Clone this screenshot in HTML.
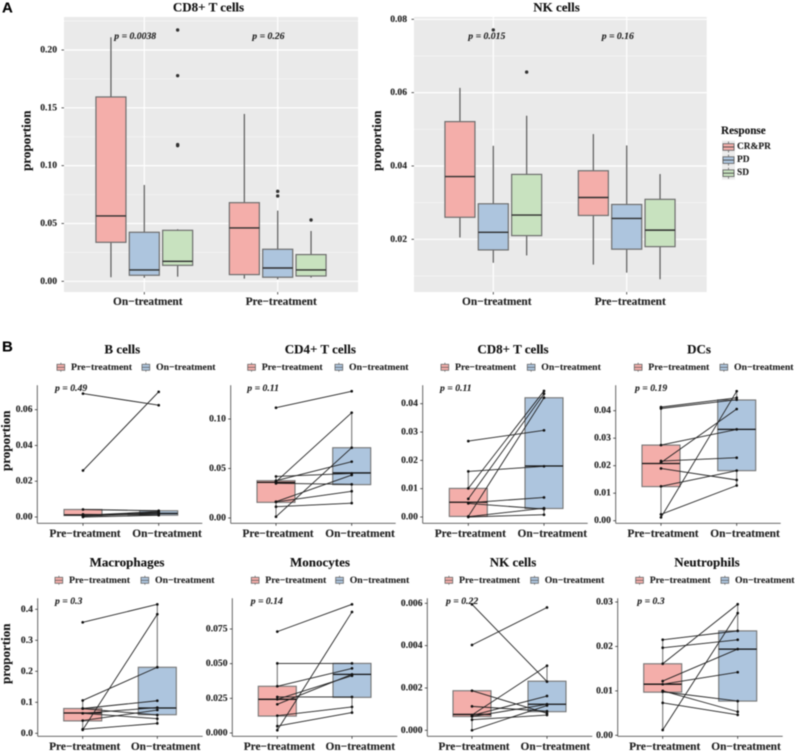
<!DOCTYPE html>
<html lang="en">
<head>
<meta charset="utf-8">
<title>Immune cell proportions by response and treatment</title>
<style>
html,body{margin:0;padding:0;background:#fff;width:795px;height:751px;overflow:hidden}
svg{display:block;filter:blur(0.4px)}
text{font-family:"Liberation Serif",serif;font-weight:bold;fill:#222;dominant-baseline:central;stroke:#222;stroke-width:0.12px}
.tick{font-size:9.6px;fill:#222}
.cat{font-size:11.4px;fill:#222;text-anchor:middle}
.title{font-size:13px;fill:#111;text-anchor:middle}
.ylab{font-size:13px;fill:#111;text-anchor:middle}
.pv{font-size:9.7px;font-style:italic;fill:#222}
.leg{font-size:9.75px;fill:#222}
.legA{font-size:9.4px;fill:#222}
.legT{font-size:11.2px;fill:#111}
.tag{font-family:"Liberation Sans",sans-serif;font-size:15px;fill:#000;stroke:#000}
</style>
</head>
<body>
<svg id="fig" width="795" height="751" viewBox="0 0 795 751" xmlns="http://www.w3.org/2000/svg"></svg>
<script>
/* ---------- Panel A data ---------- */
const responseGroups = ['CR&PR', 'PD', 'SD'];
const treatmentCategories = ['On\u2212treatment', 'Pre\u2212treatment'];
const pairedCategories = ['Pre\u2212treatment', 'On\u2212treatment'];

const cd8Ticks = ['0.00', '0.05', '0.10', '0.15', '0.20'];
const cd8Minor = [0.025, 0.075, 0.125, 0.175, 0.225];
const cd8PValues = ['p = 0.0038', 'p = 0.26'];
/* each box: low whisker, q1, median, q3, high whisker */
const cd8OnBoxes = [
  [0.0035, 0.0337, 0.0565, 0.1594, 0.211],
  [0.003, 0.0052, 0.0098, 0.0424, 0.0833],
  [0.004, 0.0138, 0.0173, 0.0441, 0.045]
];
const cd8PreBoxes = [
  [0.0023, 0.0058, 0.0461, 0.068, 0.1447],
  [0.0017, 0.0035, 0.0115, 0.0277, 0.0611],
  [0.0032, 0.0046, 0.0098, 0.0231, 0.0435]
];
const cd8OnOutliers = [[], [], [0.2173, 0.1778, 0.1182, 0.1173]];
const cd8PreOutliers = [[], [0.0778, 0.0738], [0.053]];

const nkATicks = ['0.02', '0.04', '0.06', '0.08'];
const nkAMinor = [0.01, 0.03, 0.05, 0.07];
const nkAPValues = ['p = 0.015', 'p = 0.16'];
const nkAOnBoxes = [
  [0.0205, 0.026, 0.0371, 0.0521, 0.0613],
  [0.0136, 0.0171, 0.0219, 0.0297, 0.0455],
  [0.0156, 0.021, 0.0266, 0.0377, 0.0537]
];
const nkAPreBoxes = [
  [0.0131, 0.0265, 0.0314, 0.0387, 0.0487],
  [0.0109, 0.0173, 0.0257, 0.0295, 0.0456],
  [0.0091, 0.018, 0.0225, 0.0309, 0.0378]
];
const nkAOnOutliers = [[], [0.0771], [0.0656]];
const nkAPreOutliers = [[], [], []];

/* ---------- Panel B data: paired values, box [low, q1, median, q3, high] ---------- */
const bCellsTicks = ['0.00', '0.02', '0.04', '0.06'];
const bCellsPre = [0.069, 0.026, 0.0042, 0.0015, 0.001, 0.0005, 0, 0.001];
const bCellsOn = [0.0625, 0.07, 0.0035, 0.0012, 0.003, 0.002, 0.001, 0.0025];
const bCellsPreBox = [0, 0.0008, 0.0012, 0.0042, 0.0042];
const bCellsOnBox = [0.001, 0.001, 0.002, 0.0035, 0.0035];

const cd4Ticks = ['0.00', '0.05', '0.10'];
const cd4Pre = [0.1114, 0.0367, 0.0013, 0.042, 0.0377, 0.035, 0.0165, 0.0162, 0.0114];
const cd4On = [0.128, 0.1064, 0.071, 0.045, 0.0569, 0.034, 0.0434, 0.027, 0.015];
const cd4PreBox = [0.0013, 0.0158, 0.036, 0.0377, 0.042];
const cd4OnBox = [0.015, 0.0337, 0.0455, 0.071, 0.107];

const cd8bTicks = ['0.00', '0.01', '0.02', '0.03', '0.04'];
const cd8bPre = [0.0268, 0.0161, 0.0101, 0.0064, 0.0048, 0.005, 0.0002, 0.0001, 0];
const cd8bOn = [0.0306, 0.0179, 0.0445, 0.0435, 0.0028, 0.0069, 0.0421, 0.0031, 0.0008];
const cd8bPreBox = [0, 0.0002, 0.0052, 0.0101, 0.0161];
const cd8bOnBox = [0.0008, 0.003, 0.018, 0.0421, 0.0445];

const dcTicks = ['0.00', '0.01', '0.02', '0.03', '0.04'];
const dcPre = [0.0413, 0.0408, 0.0275, 0.0217, 0.0211, 0.019, 0.0125, 0.0023, 0.0012];
const dcOn = [0.0447, 0.044, 0.0332, 0.0229, 0.0406, 0.0148, 0.0182, 0.0128, 0.0471];
const dcPreBox = [0.0012, 0.0124, 0.0208, 0.0275, 0.0413];
const dcOnBox = [0.0128, 0.0182, 0.0332, 0.0439, 0.0471];

const macTicks = ['0.0', '0.1', '0.2', '0.3', '0.4'];
const macPre = [0.358, 0.106, 0.011, 0.08, 0.0795, 0.0645, 0.0645, 0.041, 0.013];
const macOn = [0.416, 0.213, 0.384, 0.105, 0.059, 0.083, 0.047, 0.075, 0.032];
const macPreBox = [0.011, 0.04, 0.0655, 0.08, 0.106];
const macOnBox = [0.032, 0.06, 0.0815, 0.213, 0.416];

const monoTicks = ['0.000', '0.025', '0.050', '0.075'];
const monoPre = [0.0731, 0.0502, 0.0337, 0.026, 0.0243, 0.0207, 0.0125, 0.005, 0.002];
const monoOn = [0.0928, 0.0502, 0.0466, 0.026, 0.0413, 0.0423, 0.0188, 0.0147, 0.0873];
const monoPreBox = [0.002, 0.0122, 0.0243, 0.0337, 0.0502];
const monoOnBox = [0.0147, 0.0257, 0.0423, 0.0502, 0.0502];

const nkbTicks = ['0.000', '0.002', '0.004', '0.006'];
const nkbPre = [0.00595, 0.00403, 0.00187, 0.00113, 0.00072, 0.0007, 0.00065, 0.0005, 0];
const nkbOn = [0.0023, 0.0058, 0.0008, 0.0009, 0.00305, 0.00162, 0.00123, 0.00072, 0.00117];
const nkbPreBox = [0, 0.00065, 0.00075, 0.00187, 0.00187];
const nkbOnBox = [0.00072, 0.00088, 0.00123, 0.00232, 0.00305];

const neutTicks = ['0.00', '0.01', '0.02', '0.03'];
const neutPre = [0.0215, 0.0197, 0.0161, 0.0122, 0.0115, 0.01, 0.0098, 0.0073, 0.0012];
const neutOn = [0.0235, 0.0215, 0.0295, 0.0194, 0.0142, 0.0053, 0.0077, 0.0046, 0.0275];
const neutPreBox = [0.0012, 0.0097, 0.0115, 0.0161, 0.0215];
const neutOnBox = [0.0046, 0.0077, 0.0194, 0.0235, 0.0295];

/* ---------- Colours ---------- */
const responseFill = ['#f4aeaa', '#adc5de', '#c8e2bf'];
const pairFill = ['#f4aeaa', '#adc5de'];

/* ---------- Drawing helpers ---------- */
const NS = 'http://www.w3.org/2000/svg';
const svg = document.getElementById('fig');

function group(parent, name) {
  const el = document.createElementNS(NS, 'g');
  
  
  parent.appendChild(el);
  return el;
}
function line(parent, x1, y1, x2, y2, stroke, width, name) {
  const el = document.createElementNS(NS, 'line');
  el.setAttribute('x1', x1);
  el.setAttribute('y1', y1);
  el.setAttribute('x2', x2);
  el.setAttribute('y2', y2);
  el.setAttribute('stroke', stroke);
  el.setAttribute('stroke-width', width);
  
  
  parent.appendChild(el);
  return el;
}
function rect(parent, x, y, w, h, fill, stroke, width, name) {
  const el = document.createElementNS(NS, 'rect');
  el.setAttribute('x', x);
  el.setAttribute('y', y);
  el.setAttribute('width', w);
  el.setAttribute('height', h);
  el.setAttribute('fill', fill);
  el.setAttribute('stroke', stroke);
  el.setAttribute('stroke-width', width);
  
  
  parent.appendChild(el);
  return el;
}
function dot(parent, x, y, r, fill, name) {
  const el = document.createElementNS(NS, 'circle');
  el.setAttribute('cx', x);
  el.setAttribute('cy', y);
  el.setAttribute('r', r);
  el.setAttribute('fill', fill);
  
  
  parent.appendChild(el);
  return el;
}
function label(parent, x, y, str, cls, name, anchor, rotate) {
  const el = document.createElementNS(NS, 'text');
  el.setAttribute('x', x);
  el.setAttribute('y', y);
  el.setAttribute('class', cls);
  if (anchor) el.setAttribute('text-anchor', anchor);
  if (rotate) el.setAttribute('transform', 'rotate(' + rotate + ' ' + x + ' ' + y + ')');
  el.textContent = str;
  
  
  parent.appendChild(el);
  return el;
}
/* y axis function built from the two outer tick labels and their pixel anchors */
function yScale(v0, px0, v1, px1) {
  return function (v) { return px0 + (v - v0) * (px1 - px0) / (v1 - v0); };
}

/* Box drawing shared by both panels */
function drawBox(g, cx, w, box, y, fill, stroke, sw, wStroke, wW, medColor, medW, name) {
  line(g, cx, y(box[4]), cx, y(box[3]), wStroke, wW, name + '-upper-whisker');
  line(g, cx, y(box[1]), cx, y(box[0]), wStroke, wW, name + '-lower-whisker');
  rect(g, cx - w / 2, y(box[3]), w, y(box[1]) - y(box[3]), fill, stroke, sw, name + '-box');
  line(g, cx - w / 2, y(box[2]), cx + w / 2, y(box[2]), medColor, medW, name + '-median');
}

/* ---------- Panel A ---------- */
function grouped(cfg) {
  const g = group(svg, cfg.name);
  const y = yScale(parseFloat(cfg.ticks[0]), cfg.py0, parseFloat(cfg.ticks[cfg.ticks.length - 1]), cfg.py1);
  const background = rect(g, cfg.left, 17, cfg.right - cfg.left, 275, '#eaeaea', 'none', 0, cfg.name + '-panel-background');
  background.removeAttribute('stroke-width');
  cfg.minor.forEach(function (v) {
    line(g, cfg.left, y(v), cfg.right, y(v), '#f6f6f6', 0.7, cfg.name + '-minor-gridline');
  });
  cfg.ticks.forEach(function (t) {
    const v = parseFloat(t);
    line(g, cfg.left, y(v), cfg.right, y(v), '#ffffff', 1.2, cfg.name + '-major-gridline');
    line(g, cfg.left - 2.5, y(v), cfg.left, y(v), '#333', 0.8, cfg.name + '-y-tick');
    label(g, cfg.left - 7, y(v), t, 'tick', cfg.name + '-y-tick-label', 'end');
  });
  const step = (cfg.cat[1] - cfg.cat[0]);
  treatmentCategories.forEach(function (c, i) {
    const cx = cfg.cat[i];
    line(g, cx, 17, cx, 292, '#ffffff', 1.2, cfg.name + '-vertical-gridline');
    line(g, cx, 292, cx, 294.5, '#333', 0.8, cfg.name + '-x-tick');
    label(g, cx + 3.5, 302, c, 'cat', cfg.name + '-x-tick-label');
  });
  const bw = step * 0.225;
  const off = step * 0.25;
  cfg.boxes.forEach(function (set, i) {
    set.forEach(function (box, j) {
      const cx = cfg.cat[i] + (j - 1) * off;
      const nm = cfg.name + '-' + (i === 0 ? 'on' : 'pre') + '-' + responseGroups[j].toLowerCase().replace('&', '-');
      drawBox(g, cx, bw, box, y, responseFill[j], '#6e6e6e', 1.2, '#5f5f5f', 1.25, '#2e2e2e', 1.4, nm);
      cfg.outliers[i][j].forEach(function (v) {
        dot(g, cx, y(v), 1.7, '#333', nm + '-outlier');
      });
    });
  });
  cfg.pvalues.forEach(function (p, i) {
    label(g, cfg.px[i], 36.7, p, 'pv', cfg.name + '-p-value');
  });
  label(g, cfg.titleX, 7, cfg.title, 'title', cfg.name + '-title');
  label(g, cfg.ylabX, 140.7, 'proportion', 'ylab', cfg.name + '-y-axis-title', null, -90);
}

grouped({name: 'cd8-grouped-chart', title: 'CD8+ T cells', left: 64, right: 358,
  ticks: cd8Ticks, minor: cd8Minor, py0: 281.3, py1: 50, cat: [144.3, 277.7],
  boxes: [cd8OnBoxes, cd8PreBoxes], outliers: [cd8OnOutliers, cd8PreOutliers],
  pvalues: cd8PValues, px: [114.3, 252.3], titleX: 208.5, ylabX: 26});
grouped({name: 'nk-grouped-chart', title: 'NK cells', left: 414, right: 706.7,
  ticks: nkATicks, minor: nkAMinor, py0: 239.3, py1: 19.3, cat: [493.3, 626.7],
  boxes: [nkAOnBoxes, nkAPreBoxes], outliers: [nkAOnOutliers, nkAPreOutliers],
  pvalues: nkAPValues, px: [468.3, 601.7], titleX: 556.5, ylabX: 376.7});

/* Response legend */
(function () {
  const g = group(svg, 'response-legend');
  label(g, 721, 131, 'Response', 'legT', 'legend-title');
  responseGroups.forEach(function (r, i) {
    const cy = 147 + i * 13.1;
    const e = group(g, 'legend-entry-' + r.toLowerCase().replace('&', '-'));
    rect(e, 722, cy - 6.5, 13, 13, '#ececec', 'none', 0, 'legend-key-background');
    line(e, 728.5, cy - 5.5, 728.5, cy + 5.5, '#666', 0.8, 'legend-key-whisker');
    rect(e, 723, cy - 3.3, 11, 6.6, responseFill[i], '#666', 0.9, 'legend-key-box');
    line(e, 723, cy, 734, cy, '#444', 0.9, 'legend-key-median');
    label(e, 737, cy, r, 'legA', 'legend-label');
  });
})();

/* ---------- Panel B ---------- */
function paired(cfg) {
  const g = group(svg, cfg.name);
  const y = yScale(parseFloat(cfg.ticks[0]), cfg.py0, parseFloat(cfg.ticks[cfg.ticks.length - 1]), cfg.py1);
  const bottom = cfg.bottom, top = bottom - 138;
  label(g, cfg.titleX, bottom - 174.5, cfg.title, 'title', cfg.name + '-title');
  pairedCategories.forEach(function (c, i) {
    const e = group(g, cfg.name + '-legend-entry-' + (i === 0 ? 'pre' : 'on'));
    const ky = bottom - 156;
    line(e, cfg.keys[i] + 3.85, ky - 4.5, cfg.keys[i] + 3.85, ky + 4.5, '#555', 0.7, 'legend-key-whisker');
    rect(e, cfg.keys[i], ky - 3, 7.7, 6, pairFill[i], '#666', 0.8, 'legend-key-box');
    line(e, cfg.keys[i], ky, cfg.keys[i] + 7.7, ky, '#555', 0.7, 'legend-key-median');
    label(e, cfg.keys[i] + 14, ky, c, 'leg', 'legend-label');
  });
  [cfg.preBox, cfg.onBox].forEach(function (box, i) {
    drawBox(g, cfg.cat[i], 38, box, y, pairFill[i], '#757575', 1.1, '#777', 1.1, '#111', 1.3, cfg.name + (i === 0 ? '-pre' : '-on'));
  });
  cfg.pre.forEach(function (v, i) {
    line(g, cfg.cat[0], y(v), cfg.cat[1], y(cfg.on[i]), '#222', 0.9, cfg.name + '-patient-line');
    dot(g, cfg.cat[0], y(v), 1.35, '#111', cfg.name + '-pre-point');
    dot(g, cfg.cat[1], y(cfg.on[i]), 1.35, '#111', cfg.name + '-on-point');
  });
  line(g, cfg.left, top, cfg.left, bottom, '#555', 0.9, cfg.name + '-y-axis');
  line(g, cfg.left, bottom, cfg.left + 165, bottom, '#555', 0.9, cfg.name + '-x-axis');
  cfg.ticks.forEach(function (t) {
    const v = parseFloat(t);
    line(g, cfg.left - 2.5, y(v), cfg.left, y(v), '#333', 0.8, cfg.name + '-y-tick');
    label(g, cfg.left - 4.8, y(v), t, 'tick', cfg.name + '-y-tick-label', 'end');
  });
  pairedCategories.forEach(function (c, i) {
    line(g, cfg.cat[i], bottom, cfg.cat[i], bottom + 2.5, '#333', 0.8, cfg.name + '-x-tick');
    label(g, cfg.cat[i] + (i === 0 ? 2 : 8.3), bottom + 10.7, c, 'cat', cfg.name + '-x-tick-label');
  });
  label(g, cfg.px, bottom - 134.6, cfg.p, 'pv', cfg.name + '-p-value');
  if (cfg.yl) label(g, 5.7, bottom - 82.5, 'proportion', 'ylab', cfg.name + '-y-axis-title', null, -90);
}

paired({name: 'b-cells-chart', title: 'B cells', titleX: 122.3, left: 37.3, bottom: 523.3, cat: [83, 158.7],
  ticks: bCellsTicks, py0: 517, py1: 409.7, pre: bCellsPre, on: bCellsOn, preBox: bCellsPreBox, onBox: bCellsOnBox,
  keys: [57, 142], p: 'p = 0.49', px: 55, yl: true});
paired({name: 'cd4-t-cells-chart', title: 'CD4+ T cells', titleX: 320.3, left: 230.7, bottom: 523.3, cat: [276, 351.7],
  ticks: cd4Ticks, py0: 518, py1: 419, pre: cd4Pre, on: cd4On, preBox: cd4PreBox, onBox: cd4OnBox,
  keys: [247.7, 335], p: 'p = 0.11', px: 247.3});
paired({name: 'cd8-t-cells-chart', title: 'CD8+ T cells', titleX: 513, left: 422.7, bottom: 523.3, cat: [468.3, 544],
  ticks: cd8bTicks, py0: 517, py1: 403.7, pre: cd8bPre, on: cd8bOn, preBox: cd8bPreBox, onBox: cd8bOnBox,
  keys: [441, 527.3], p: 'p = 0.11', px: 440});
paired({name: 'dcs-chart', title: 'DCs', titleX: 699, left: 615.7, bottom: 523.3, cat: [661, 736.7],
  ticks: dcTicks, py0: 520.7, py1: 410.7, pre: dcPre, on: dcOn, preBox: dcPreBox, onBox: dcOnBox,
  keys: [634.3, 720], p: 'p = 0.19', px: 635});
paired({name: 'macrophages-chart', title: 'Macrophages', titleX: 127, left: 37.7, bottom: 736.3, cat: [82.7, 157.3],
  ticks: macTicks, py0: 733.3, py1: 609.3, pre: macPre, on: macOn, preBox: macPreBox, onBox: macOnBox,
  keys: [55, 141], p: 'p = 0.3', px: 55, yl: true});
paired({name: 'monocytes-chart', title: 'Monocytes', titleX: 320, left: 232.3, bottom: 736.3, cat: [277.3, 352],
  ticks: monoTicks, py0: 733, py1: 629, pre: monoPre, on: monoOn, preBox: monoPreBox, onBox: monoOnBox,
  keys: [251.3, 335.7], p: 'p = 0.14', px: 250.7});
paired({name: 'nk-cells-chart', title: 'NK cells', titleX: 513, left: 427.3, bottom: 736.3, cat: [472, 547],
  ticks: nkbTicks, py0: 730.3, py1: 603.3, pre: nkbPre, on: nkbOn, preBox: nkbPreBox, onBox: nkbOnBox,
  keys: [445, 530.7], p: 'p = 0.22', px: 446});
paired({name: 'neutrophils-chart', title: 'Neutrophils', titleX: 707, left: 617.7, bottom: 736.3, cat: [662.7, 737.7],
  ticks: neutTicks, py0: 735.3, py1: 602, pre: neutPre, on: neutOn, preBox: neutPreBox, onBox: neutOnBox,
  keys: [635.7, 721], p: 'p = 0.3', px: 637.3});

label(svg, 2, 8, 'A', 'tag', 'panel-a-label');
label(svg, 2, 347, 'B', 'tag', 'panel-b-label');
</script>
</body>
</html>
